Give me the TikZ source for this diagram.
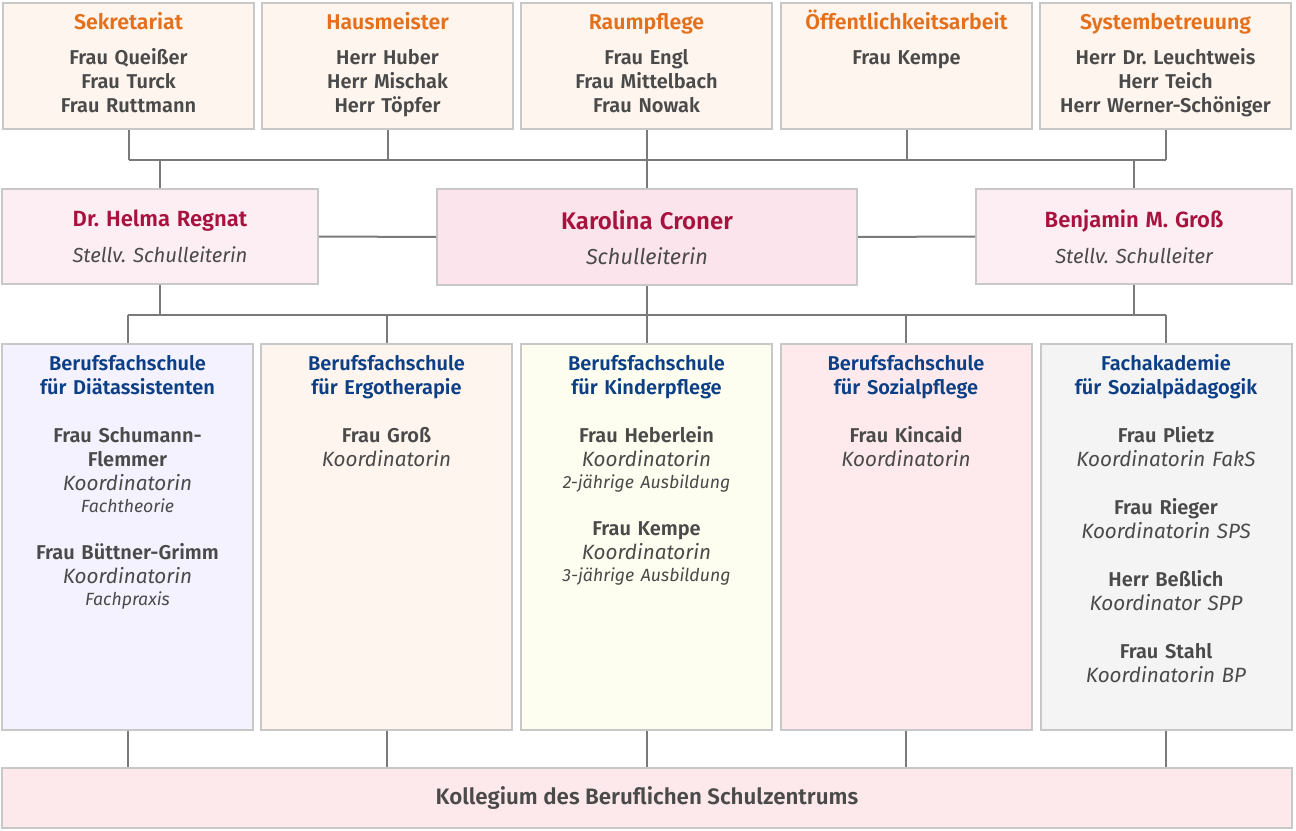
\documentclass[tikz,border=0pt]{standalone}
\usepackage{fontspec}
\setmainfont{Fira Sans}[BoldFont={Fira Sans SemiBold}]
\usetikzlibrary{positioning}
\frenchspacing

\definecolor{boxline}{HTML}{C8C8C8}
\definecolor{wire}{HTML}{7A7A7A}
\definecolor{txtgray}{HTML}{4A4A4A}
\definecolor{orangehead}{HTML}{E5701C}
\definecolor{crimson}{HTML}{A8123F}
\definecolor{bluehead}{HTML}{0C3F86}
\definecolor{topfill}{HTML}{FEF5EE}
\definecolor{deputyfill}{HTML}{FDEEF3}
\definecolor{headfill}{HTML}{FBE4EB}
\definecolor{diaetfill}{HTML}{F3F2FE}
\definecolor{ergofill}{HTML}{FEF5EF}
\definecolor{kinderfill}{HTML}{FEFEF0}
\definecolor{sozialfill}{HTML}{FEEAEC}
\definecolor{fakfill}{HTML}{F4F4F4}
\definecolor{kollfill}{HTML}{FDE9EB}

\newcommand{\colhead}[1]{{\color{bluehead}#1}}
\newcommand{\koord}[1]{{\mdseries\itshape\fontsize{15.5}{18}\selectfont #1}}
\newcommand{\smallnote}[1]{{\mdseries\itshape\fontsize{13.25}{18}\selectfont #1}}
\newcommand{\tophead}[1]{{\fontsize{16}{18}\selectfont\color{orangehead}#1}}
\newcommand{\leadname}[2]{{\fontsize{#1}{20}\selectfont\bfseries\upshape\color{crimson}#2}}
\newcommand{\firstline}{\rule{0pt}{15pt}}

\begin{document}
\begin{tikzpicture}[x=0.75pt,y=0.75pt,
    box/.style={draw=boxline,line width=1.5pt,inner sep=0pt},
    topbox/.style={box,fill=topfill,minimum width=188.25pt,minimum height=94.5pt},
    leadbox/.style={box,minimum width=237pt,minimum height=71.25pt,align=center,
        text width=230pt,font=\fontsize{15.25}{18}\selectfont\itshape,text=txtgray},
    colbox/.style={box,minimum width=188.25pt,minimum height=289.5pt},
    boxtext/.style={align=center,text width=180pt,inner sep=0pt,
        font=\fontsize{15}{18}\selectfont\bfseries,text=txtgray},
    wire/.style={draw=wire,line width=1.5pt}]
\useasboundingbox (0,0) rectangle (1296,-831);

% obere Reihe
\node[topbox] (sek) at (128.5,-66) {};
\node[topbox] (haus) at (387.5,-66) {};
\node[topbox] (raum) at (646.5,-66) {};
\node[topbox] (oeff) at (906.5,-66) {};
\node[topbox] (sys) at (1165.5,-66) {};
\node[boxtext,below=5.25pt of sek.north] (sekt) {\firstline\tophead{Sekretariat}\\[8.25pt]
    Frau Queißer\\Frau Turck\\Frau Ruttmann};
\node[boxtext,below=5.25pt of haus.north] (haust) {\firstline\tophead{Hausmeister}\\[8.25pt]
    Herr Huber\\Herr Mischak\\Herr Töpfer};
\node[boxtext,below=5.25pt of raum.north] (raumt) {\firstline\tophead{Raumpflege}\\[8.25pt]
    Frau Engl\\Frau Mittelbach\\Frau Nowak};
\node[boxtext,below=5.25pt of oeff.north] (oefft) {\firstline\tophead{Öffentlichkeitsarbeit}\\[8.25pt]
    Frau Kempe};
\node[boxtext,below=5.25pt of sys.north] (syst) {\firstline\tophead{Systembetreuung}\\[8.25pt]
    Herr Dr. Leuchtweis\\Herr Teich\\Herr Werner-Schöniger};

% Schulleitung
\node[leadbox,fill=deputyfill] (regnat) at (160,-236.5)
    {\leadname{16.5}{Dr. Helma Regnat}\\[9pt]
    Stellv. Schulleiterin};
\node[leadbox,fill=headfill,minimum width=315pt,minimum height=72pt,
    font=\fontsize{16.25}{18}\selectfont\itshape] (croner) at (647,-237)
    {\leadname{18}{Karolina Croner}\\[8.25pt]
    Schulleiterin};
\node[leadbox,fill=deputyfill] (gross) at (1134,-236.5)
    {\leadname{16.5}{Benjamin M. Groß}\\[9pt]
    Stellv. Schulleiter};

% Schularten
\node[colbox,fill=diaetfill] (diaet) at (127.5,-537) {};
\node[colbox,fill=ergofill] (ergo) at (386.5,-537) {};
\node[colbox,fill=kinderfill] (kinder) at (646.5,-537) {};
\node[colbox,fill=sozialfill] (sozial) at (906,-537) {};
\node[colbox,fill=fakfill] (fak) at (1166,-537) {};
\node[boxtext,below=5.25pt of diaet.north] (diaett)
    {\firstline\colhead{Berufsfachschule\\für Diätassistenten}\\[18pt]
    Frau Schumann-\\Flemmer\\\koord{Koordinatorin}\\[-1.5pt]\smallnote{Fachtheorie}\\[17.25pt]
    Frau Büttner-Grimm\\\koord{Koordinatorin}\\[-1.5pt]\smallnote{Fachpraxis}};
\node[boxtext,below=5.25pt of ergo.north] (ergot)
    {\firstline\colhead{Berufsfachschule\\für Ergotherapie}\\[18pt]
    Frau Groß\\\koord{Koordinatorin}};
\node[boxtext,below=5.25pt of kinder.north] (kindert)
    {\firstline\colhead{Berufsfachschule\\für Kinderpflege}\\[18pt]
    Frau Heberlein\\\koord{Koordinatorin}\\[-1.5pt]\smallnote{2-jährige Ausbildung}\\[17.25pt]
    Frau Kempe\\\koord{Koordinatorin}\\[-1.5pt]\smallnote{3-jährige Ausbildung}};
\node[boxtext,below=5.25pt of sozial.north] (sozialt)
    {\firstline\colhead{Berufsfachschule\\für Sozialpflege}\\[18pt]
    Frau Kincaid\\\koord{Koordinatorin}};
\node[boxtext,below=5.25pt of fak.north] (fakt)
    {\firstline\colhead{Fachakademie\\für Sozialpädagogik}\\[18pt]
    Frau Plietz\\\koord{Koordinatorin FakS}\\[18pt]
    Frau Rieger\\\koord{Koordinatorin SPS}\\[18pt]
    Herr Beßlich\\\koord{Koordinator SPP}\\[18pt]
    Frau Stahl\\\koord{Koordinatorin BP}};

% Kollegium
\node[box,fill=kollfill,minimum width=967.5pt,minimum height=45pt,
    font=\fontsize{16.75}{18}\selectfont\bfseries,text=txtgray] (koll) at (647,-798)
    {Kollegium des Beruflichen Schulzentrums};

% Verbindungen
\coordinate (busT) at (0,-160);
\coordinate (busM) at (0,-315);
\foreach \n in {sek,haus,raum,oeff,sys}
    \draw[wire] (\n.south) -- (\n.south |- busT);
\draw[wire] (sek.south |- busT) -- (sys.south |- busT);
\foreach \n in {regnat,croner,gross}{
    \draw[wire] (\n.north) -- (\n.north |- busT);
    \draw[wire] (\n.south) -- (\n.south |- busM);
}
\draw[wire] (regnat.east) -- (croner.west);
\draw[wire] (croner.east) -- (gross.west);
\draw[wire] (diaet.north |- busM) -- (fak.north |- busM);
\foreach \n in {diaet,ergo,kinder,sozial,fak}{
    \draw[wire] (\n.north |- busM) -- (\n.north);
    \draw[wire] (\n.south) -- (\n.south |- koll.north);
}
\end{tikzpicture}
\end{document}
